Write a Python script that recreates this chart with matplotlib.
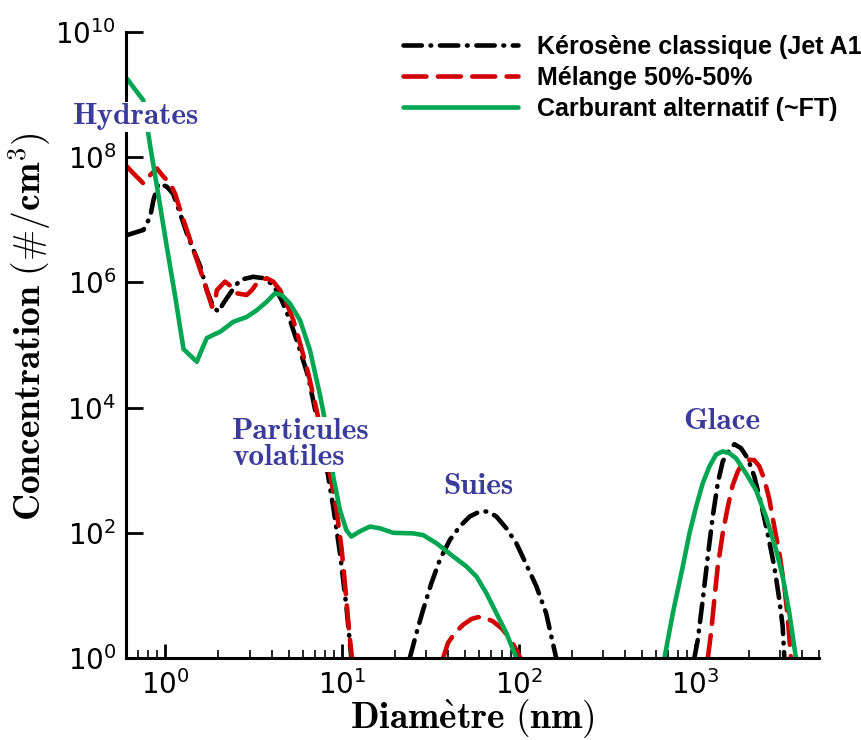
import numpy as np
import matplotlib.pyplot as plt
from matplotlib.ticker import LogLocator, NullLocator

# diametre (nm) / concentration (#/cm3), un mode par liste

# Kerosene classique (Jet A1)
jet_d1 = [0.608, 0.754, 0.823, 0.859, 0.917, 1.02, 1.11, 1.215, 1.326, 1.445, 1.58, 1.72,
          1.87, 2.0, 2.14, 2.33, 2.65, 3.15, 3.59, 4.09, 4.56, 5.08, 5.79, 6.45, 7.19,
          7.51, 8.19, 8.93, 9.75, 10.6, 11.3]
jet_c1 = [5.7e6, 6.9e6, 1.12e7, 2.1e7, 3.8e7, 3.4e7, 2.6e7, 1.26e7, 6.1e6, 3.3e6, 1.8e6, 7.5e5,
          4.1e5, 3.4e5, 4.7e5, 6.7e5, 1.1e6, 1.23e6, 1.17e6, 9.1e5, 5.2e5, 2.5e5, 8.3e4, 3.1e4, 7.1e3,
          3.9e3, 1.14e3, 2.6e2, 47, 6.6, 1.0]
jet_d2 = [24.2, 26.4, 28.8, 32.1, 35.8, 40.8, 46.4, 52.8, 60.2, 67.1, 74.8, 85.2, 97, 110, 126, 143, 163]
jet_c2 = [1.0, 2.5, 5.9, 15.8, 37, 77, 126, 182, 219, 219, 182, 118, 68, 32, 13.9, 5.2, 1.0]
jet_d3 = [986, 1031, 1100, 1175, 1253, 1337, 1427, 1556, 1660, 1811, 1974, 2153, 2348, 2561,
          2793, 2984, 3116, 3184]
jet_c3 = [1.0, 1.95, 8.5, 42, 182, 620, 1380, 2100, 2600, 2250, 1550, 795, 297, 98,
          29, 8.5, 3.2, 1.0]

# Melange 50%-50%
mix_d1 = [0.608, 0.662, 0.754, 0.823, 0.898, 0.978, 1.067, 1.139, 1.215, 1.326, 1.445, 1.58,
          1.72, 1.84, 1.92, 1.96, 2.18, 2.38, 2.54, 2.89, 3.09, 3.30, 3.75, 4.09, 4.47, 4.87,
          5.31, 5.79, 6.45, 7.19, 7.68, 8.55, 9.33, 9.97, 10.6, 11.0, 11.4]
mix_c1 = [7.1e7, 5.5e7, 3.8e7, 5.2e7, 6.6e7, 4.9e7, 3.8e7, 2.6e7, 1.44e7, 6.9e6, 3.3e6, 1.58e6,
          7.5e5, 4.1e5, 5.2e5, 7.5e5, 1.03e6, 8.5e5, 6.7e5, 6.3e5, 7.5e5, 9.7e5, 1.17e6, 1.03e6, 7.5e5, 4.6e5,
          2.5e5, 1.07e5, 3.5e4, 9.1e3, 3.9e3, 8.9e2, 2.3e2, 54, 8.5, 2.5, 1.0]
mix_d2 = [37.4, 39.8, 43.5, 48.5, 54.1, 58.9, 64.3, 71.6, 79.8, 89, 99, 102]
mix_c2 = [1.0, 1.74, 2.5, 3.4, 4.2, 4.5, 4.4, 3.85, 3.0, 2.1, 1.2, 1.0]
mix_d3 = [1175, 1225, 1279, 1337, 1427, 1524, 1626, 1735, 1850, 2018, 2153, 2301, 2455, 2620,
          2793, 2984, 3184, 3326, 3468]
mix_c3 = [1.0, 2.5, 8.5, 29, 98, 260, 580, 950, 1300, 1470, 1450, 1150, 710, 340,
          126, 47, 13.9, 4.6, 1.0]

# Carburant alternatif (~FT)
ft_d1 = [0.61, 0.677, 0.751, 0.823, 0.917, 1.02, 1.139, 1.27, 1.38, 1.51, 1.58, 1.72, 1.87,
         2.05, 2.43, 2.89, 3.30, 3.75, 4.18, 4.56, 5.08, 5.79, 6.59, 7.51, 8.22, 8.93, 9.75,
         10.6, 11.3, 12.6, 14.4, 16.4, 19.5, 25.3, 28.8, 34.3, 42.6, 50.6, 57.7, 65.7, 74.8,
         85.2, 97]
ft_c1 = [1.78e9, 1.2e9, 8.2e8, 1.5e8, 2.4e7, 3.8e6, 6.0e5, 8.6e4, 6.9e4, 5.4e4, 7.4e4, 1.29e5, 1.45e5,
         1.63e5, 2.35e5, 2.8e5, 3.6e5, 4.9e5, 6.7e5, 6.3e5, 4.6e5, 2.5e5, 8.3e4, 1.6e4, 4.4e3, 7.9e2, 2.3e2,
         1.1e2, 87, 105, 126, 118, 100, 98, 92, 68, 42, 29, 20, 10.8, 5.2,
         2.5, 1.0]
ft_d3 = [668, 745, 848, 925, 1008, 1100, 1200, 1308, 1427, 1556, 1698, 1933, 2203, 2508,
         2858, 3116, 3398, 3705]
ft_c3 = [1.0, 5.2, 29, 98, 260, 620, 1150, 1780, 2000, 1870, 1550, 890, 480, 180,
         54, 20, 5.2, 1.0]

labels = ['Kérosène classique (Jet A1)', 'Mélange 50%-50%', 'Carburant alternatif (~FT)']


def join(*parts):
    # modes separes par un NaN pour garder une seule courbe par carburant
    out = []
    for p in parts:
        if out:
            out.append(np.nan)
        out.extend(p)
    return np.array(out, dtype=float)


blue_txt = '#3b3b9b'

fig = plt.figure(figsize=(8.61, 7.40), dpi=100)
ax = fig.add_axes([0.1463, 0.1108, 0.8049, 0.8459])

ax.plot(join(jet_d1, jet_d2, jet_d3), join(jet_c1, jet_c2, jet_c3), color='black', lw=3.3,
        dashes=(4.0, 1.9, 0.15, 1.9), dash_capstyle='round', label=labels[0])
ax.plot(join(mix_d1, mix_d2, mix_d3), join(mix_c1, mix_c2, mix_c3), color='#d40000', lw=3.3,
        dashes=(5.0, 2.5), dash_capstyle='round', label=labels[1])
ax.plot(join(ft_d1, ft_d3), join(ft_c1, ft_c3), color='#00a651', lw=3.3,
        solid_capstyle='round', label=labels[2])

ax.set_xscale('log')
ax.set_yscale('log')
ax.set_xlim(0.6, 5000)
ax.set_ylim(1, 1e10)

ax.xaxis.set_major_locator(LogLocator(base=10))
ax.xaxis.set_minor_locator(LogLocator(base=10, subs=np.arange(2, 10)))
ax.yaxis.set_major_locator(LogLocator(base=100))
ax.yaxis.set_minor_locator(NullLocator())

for s in ['top', 'right']:
    ax.spines[s].set_visible(False)
for s in ['left', 'bottom']:
    ax.spines[s].set_linewidth(2.2)

ax.tick_params(axis='both', which='major', direction='in', width=2, labelsize=20,
               top=False, right=False)
ax.tick_params(axis='x', which='major', length=10, pad=9)
ax.tick_params(axis='y', which='major', length=12, pad=7)
ax.tick_params(axis='x', which='minor', direction='in', length=5.5, width=1.2, top=False)

ax.set_xlabel(r'$\mathbf{Diam\grave{e}tre\ (nm)}$', math_fontfamily='cm', fontsize=27, labelpad=-2)
ax.set_ylabel(r'$\mathbf{Concentration\ (\#/cm^3)}$', math_fontfamily='cm', fontsize=27)
ax.yaxis.set_label_coords(-0.105, 0.53)

box = dict(facecolor='white', edgecolor='none', pad=1)
ax.text(0.68, 4.4e8, 'Hydrates', family='cmb10', fontsize=22.5, color=blue_txt,
        ha='center', va='center', bbox=box, zorder=5)
ax.text(2.39, 2.6e3, 'Particules\nvolatiles', family='cmb10', fontsize=22.5, color=blue_txt,
        ha='left', va='center', linespacing=0.95, bbox=box, zorder=5)
ax.text(59.4, 540, 'Suies', family='cmb10', fontsize=22.5, color=blue_txt,
        ha='center', va='center', zorder=5)
ax.text(1403, 6.1e3, 'Glace', family='cmb10', fontsize=22.5, color=blue_txt,
        ha='center', va='center', zorder=5)

ax.legend(loc='upper left', bbox_to_anchor=(0.468, 0.953), bbox_transform=fig.transFigure,
          frameon=False, prop=dict(family='Liberation Sans', weight='bold', size=18),
          handlelength=4.6, handletextpad=0.75, labelspacing=0.28, borderpad=0, borderaxespad=0)

fig.savefig('out.png', dpi=100)
